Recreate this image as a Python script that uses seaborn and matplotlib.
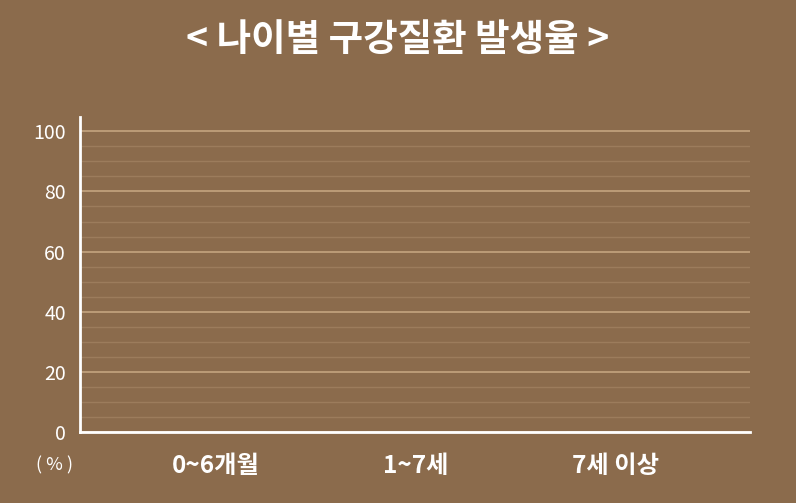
import matplotlib
matplotlib.use('Agg')
import matplotlib.pyplot as plt
import seaborn as sns
import pandas as pd
from matplotlib.ticker import MultipleLocator

# data - the reference chart shows no bars (all empty)
ages = ['0~6개월', '1~7세', '7세 이상']
rates = [0, 0, 0]
yticks = [0, 20, 40, 60, 80, 100]

bg = '#8B6B4C'
sns.set_style('white')
plt.rcParams['font.family'] = ['Noto Sans CJK KR', 'DejaVu Sans']

df = pd.DataFrame({'age': ages, 'rate': rates})

fig = plt.figure(figsize=(7.96, 5.03), dpi=100, facecolor=bg)
ax = fig.add_axes([0.1005, 0.1412, 0.8417, 0.6258])
ax.set_facecolor(bg)

sns.barplot(data=df, x='age', y='rate', color='#E8D5BC', width=0.5, ax=ax, zorder=3)

ax.set_xlim(-0.68, 2.67)
ax.set_ylim(0, 104.7)
ax.set_yticks(yticks)
ax.yaxis.set_minor_locator(MultipleLocator(5))
ax.grid(axis='y', which='major', color='#C4A47F', linewidth=1.2, zorder=0)
ax.grid(axis='y', which='minor', color='#9C7C5C', linewidth=1.0, zorder=0)
ax.set_axisbelow(True)

for s in ['top', 'right']:
    ax.spines[s].set_visible(False)
for s in ['left', 'bottom']:
    ax.spines[s].set_color('white')
    ax.spines[s].set_linewidth(2)

ax.tick_params(axis='y', which='both', length=0, pad=10, labelsize=14, labelcolor='white')
ax.tick_params(axis='x', length=0, pad=16, labelsize=17.5, labelcolor='white')
for lbl in ax.get_xticklabels():
    lbl.set_fontweight('bold')
for lbl in ax.get_yticklabels():
    lbl.set_fontweight('light')
ax.set_xlabel('')
ax.set_ylabel('')

fig.text(0.5, 0.922, '< 나이별 구강질환 발생율 >', ha='center', va='center',
         color='white', fontsize=27, fontweight='bold')
fig.text(0.069, 0.074, '( % )', ha='center', va='center', color='white', fontsize=13,
         fontweight='light')

fig.savefig('out.png', dpi=100, facecolor=bg)
